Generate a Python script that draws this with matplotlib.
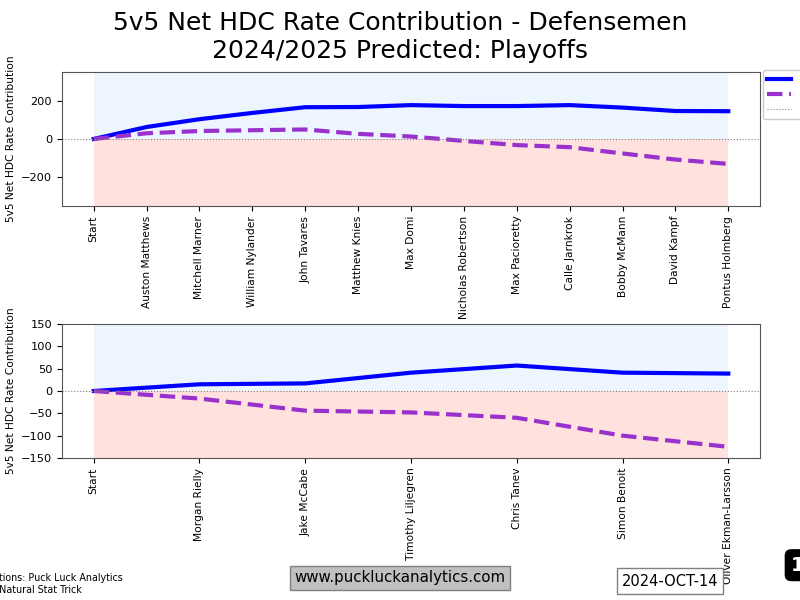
import numpy as np
import matplotlib
matplotlib.use("Agg")
import matplotlib.pyplot as plt

# forwards / top panel
fwd_names = ["Start", "Auston Matthews", "Mitchell Marner", "William Nylander",
             "John Tavares", "Matthew Knies", "Max Domi", "Nicholas Robertson",
             "Max Pacioretty", "Calle Jarnkrok", "Bobby McMann", "David Kampf",
             "Pontus Holmberg"]
fwd_offense = [0, 63, 104, 137, 167, 168, 178, 173, 173, 178, 165, 147, 146]
fwd_defense = [0, 30, 42, 46, 50, 27, 13, -10, -32, -43, -76, -108, -131]

# defensemen / bottom panel
def_names = ["Start", "Morgan Rielly", "Jake McCabe", "Timothy Liljegren",
             "Chris Tanev", "Simon Benoit", "Oliver Ekman-Larsson"]
def_offense = [0, 15, 17, 41, 57, 41, 39]
def_defense = [0, -17, -44, -48, -60, -100, -125]

legend_labels = ["Offense", "Defense", "Zero"]

blue = "#0000ff"
purple = "#9932cc"

fig = plt.figure(figsize=(8, 6), dpi=100)
ax1 = fig.add_axes([0.0775, 0.6567, 0.8725, 0.2233])
ax2 = fig.add_axes([0.0775, 0.2367, 0.8725, 0.2233])


def panel(ax, names, off, dfn, lim, ticks):
    x = np.arange(len(names))
    ax.fill_between([0, len(names) - 1], 0, lim, color="#edf5ff", lw=0, zorder=0)
    ax.fill_between([0, len(names) - 1], -lim, 0, color="#ffe1de", lw=0, zorder=0)
    ax.plot(x, off, color=blue, lw=3, label=legend_labels[0])
    ax.plot(x, dfn, color=purple, lw=3, ls="--", label=legend_labels[1])
    ax.axhline(0, color="gray", lw=0.8, ls=":", label=legend_labels[2])
    ax.set_ylim(-lim, lim)
    ax.set_yticks(ticks)
    ax.set_xticks(x)
    ax.set_xticklabels(names, rotation=90, fontsize=7.7)
    ax.tick_params(axis="y", labelsize=8.2)
    ax.set_ylabel("5v5 Net HDC Rate Contribution", fontsize=7.7)
    ax.yaxis.set_label_coords(-0.066, 0.5)
    for s in ax.spines.values():
        s.set_color("#555555")


panel(ax1, fwd_names, fwd_offense, fwd_defense, 352, [-200, 0, 200])
panel(ax2, def_names, def_offense, def_defense, 150, [-150, -100, -50, 0, 50, 100, 150])

ax1.legend(loc="upper left", bbox_to_anchor=(1.004, 1.015), borderaxespad=0,
           fontsize=7.5, handlelength=2.3, framealpha=1)

fig.suptitle("5v5 Net HDC Rate Contribution - Defensemen\n2024/2025 Predicted: Playoffs",
             fontsize=18, y=0.982)

fig.text(-0.0375, 0.027, "Projections: Puck Luck Analytics\nData: Natural Stat Trick",
         ha="left", va="center", fontsize=7.7, fontstretch="condensed")
fig.text(0.5, 0.037, "www.puckluckanalytics.com", ha="center", va="center", fontsize=10.8,
         bbox=dict(boxstyle="square,pad=0.3", facecolor="#c0c0c0", edgecolor="gray"))
fig.text(0.8375, 0.0315, "2024-OCT-14", ha="center", va="center", fontsize=10.5,
         bbox=dict(boxstyle="square,pad=0.35", facecolor="white", edgecolor="gray"))
fig.text(0.989, 0.058, "1", ha="left", va="center", fontsize=14, color="white",
         fontweight="bold",
         bbox=dict(boxstyle="round,pad=0.3", facecolor="black", edgecolor="black"))

fig.savefig("out.png", dpi=100)
